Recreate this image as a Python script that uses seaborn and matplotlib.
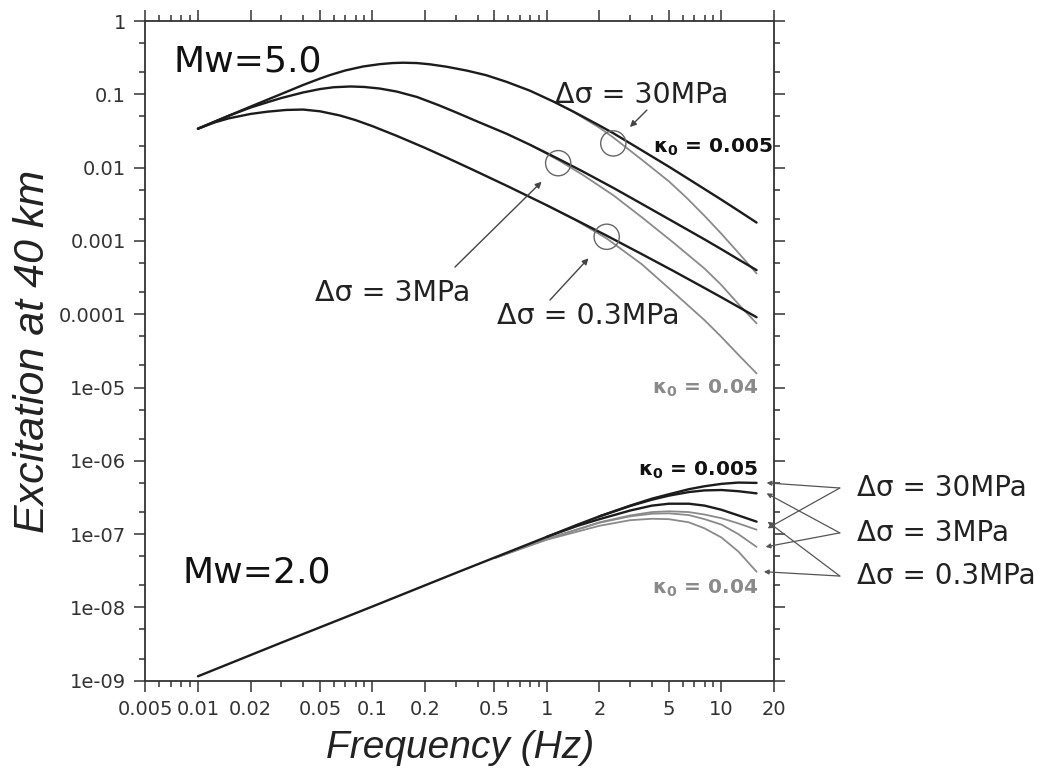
import numpy as np
import pandas as pd
import seaborn as sns
import matplotlib
matplotlib.use("Agg")
import matplotlib.pyplot as plt
from matplotlib.ticker import FixedLocator, FixedFormatter, NullFormatter

# ---------------- data ----------------
# Mw = 5.0, kappa0 = 0.005 (black)
f5_30 = [0.01, 0.015, 0.02, 0.03, 0.04, 0.05, 0.057, 0.07, 0.0885, 0.11, 0.13, 0.15, 0.18, 0.213,
         0.266, 0.35, 0.45, 0.587, 0.8, 1.11, 1.42, 2.0, 2.4, 3.5, 5.0, 6.3, 8.0, 10.0, 12.5, 15.9]
v5_30 = [0.034, 0.051, 0.068, 0.101, 0.134, 0.164, 0.183, 0.212, 0.24, 0.258, 0.267, 0.27, 0.267, 0.257,
         0.238, 0.21, 0.182, 0.148, 0.112, 0.078, 0.058, 0.0375, 0.0295, 0.0172, 0.0103, 0.0073, 0.0051,
         0.00365, 0.00259, 0.00178]
f5_3 = [0.01, 0.015, 0.02, 0.025, 0.03, 0.04, 0.05, 0.06, 0.075, 0.09, 0.11, 0.138, 0.18, 0.24, 0.3,
        0.4, 0.587, 0.8, 1.16, 1.6, 2.4, 3.5, 5.3, 8.0, 10.0, 12.5, 15.9]
v5_3 = [0.034, 0.051, 0.066, 0.078, 0.089, 0.106, 0.118, 0.125, 0.128, 0.126, 0.12, 0.109, 0.092, 0.071,
        0.057, 0.0425, 0.029, 0.0205, 0.0132, 0.0089, 0.0053, 0.0032, 0.00183, 0.00105, 0.00077,
        0.00056, 0.0004]
f5_03 = [0.01, 0.0125, 0.015, 0.02, 0.025, 0.032, 0.04, 0.05, 0.065, 0.08, 0.1, 0.138, 0.2, 0.266,
         0.378, 0.6, 1.0, 1.5, 2.2, 3.5, 5.3, 8.0, 10.0, 12.5, 15.9]
v5_03 = [0.034, 0.0415, 0.047, 0.054, 0.058, 0.0612, 0.062, 0.0587, 0.0515, 0.0445, 0.0368, 0.0271,
         0.0186, 0.0137, 0.0093, 0.00553, 0.00306, 0.00188, 0.00118, 0.00066, 0.00039, 0.000228,
         0.00017, 0.000126, 0.000091]
# Mw = 5.0, kappa0 = 0.04 (grey)
g5_f30 = [1.11, 1.42, 2.0, 2.4, 3.5, 5.0, 6.3, 8.0, 10.0, 12.5, 15.9]
g5_v30 = [0.078, 0.0575, 0.035, 0.0258, 0.0128, 0.0065, 0.0039, 0.0022, 0.00125, 0.00069, 0.00036]
g5_f3 = [0.8, 1.16, 1.6, 2.4, 3.5, 5.3, 8.0, 10.0, 12.5, 15.9]
g5_v3 = [0.0205, 0.0127, 0.008, 0.0042, 0.0021, 0.00095, 0.00042, 0.00025, 0.000138, 0.000075]
g5_f03 = [1.0, 1.5, 2.2, 3.5, 5.3, 8.0, 10.0, 12.5, 15.9]
g5_v03 = [0.00306, 0.00185, 0.00108, 0.00048, 0.0002, 0.000083, 0.000049, 0.000028, 0.0000156]

# Mw = 2.0, kappa0 = 0.005 (black)
f2_30 = [0.01, 0.03, 0.1, 0.3, 1.0, 1.5, 2.0, 3.0, 4.0, 5.0, 6.5, 8.0, 10.0, 12.5, 15.9]
v2_30 = [1.15e-9, 3.3e-9, 1.03e-8, 2.95e-8, 9.2e-8, 1.35e-7, 1.75e-7, 2.45e-7, 3.05e-7, 3.5e-7,
         4.1e-7, 4.5e-7, 4.85e-7, 5.05e-7, 5.0e-7]
f2_3 = [2.0, 3.0, 4.0, 5.0, 6.5, 8.0, 10.0, 12.5, 15.9]
v2_3 = [1.75e-7, 2.42e-7, 2.95e-7, 3.35e-7, 3.75e-7, 3.95e-7, 4.0e-7, 3.85e-7, 3.6e-7]
f2_03 = [1.0, 1.5, 2.0, 3.0, 4.0, 5.0, 6.5, 8.0, 10.0, 12.5, 15.9]
v2_03 = [9.2e-8, 1.3e-7, 1.6e-7, 2.1e-7, 2.45e-7, 2.6e-7, 2.6e-7, 2.45e-7, 2.15e-7, 1.8e-7, 1.48e-7]
# Mw = 2.0, kappa0 = 0.04 (grey)
g2_f30 = [0.5, 1.0, 2.0, 3.0, 4.0, 5.0, 6.5, 8.0, 10.0, 12.5, 15.9]
g2_v30 = [4.7e-8, 8.6e-8, 1.45e-7, 1.8e-7, 2.0e-7, 2.05e-7, 2.0e-7, 1.85e-7, 1.65e-7, 1.4e-7, 1.15e-7]
g2_f3 = [0.5, 1.0, 2.0, 3.0, 4.0, 5.0, 6.5, 8.0, 10.0, 12.5, 15.9]
g2_v3 = [4.7e-8, 8.6e-8, 1.43e-7, 1.75e-7, 1.9e-7, 1.92e-7, 1.82e-7, 1.6e-7, 1.35e-7, 1.0e-7, 6.7e-8]
g2_f03 = [0.5, 1.0, 2.0, 3.0, 4.0, 5.0, 6.5, 8.0, 10.0, 12.5, 15.9]
g2_v03 = [4.7e-8, 8.4e-8, 1.3e-7, 1.55e-7, 1.62e-7, 1.6e-7, 1.45e-7, 1.2e-7, 9.0e-8, 5.8e-8, 3.07e-8]

xtick_vals = [0.005, 0.01, 0.02, 0.05, 0.1, 0.2, 0.5, 1, 2, 5, 10, 20]
xtick_labels = ["0.005", "0.01", "0.02", "0.05", "0.1", "0.2", "0.5", "1", "2", "5", "10", "20"]
ytick_vals = [1, 0.1, 0.01, 0.001, 0.0001, 1e-5, 1e-6, 1e-7, 1e-8, 1e-9]
ytick_labels = ["1", "0.1", "0.01", "0.001", "0.0001", "1e-05", "1e-06", "1e-07", "1e-08", "1e-09"]

# ---------------- styling ----------------
sns.set_theme(style="ticks")
plt.rcParams["font.family"] = ["DejaVu Sans"]
plt.rcParams["mathtext.fontset"] = "dejavusans"

BLACK = "#1c1c1c"
GREY = "#8a8a8a"
SPINE = "#333333"

fig = plt.figure(figsize=(10.51, 7.82), dpi=100)
ax = fig.add_axes([0.1384, 0.1295, 0.598, 0.8436])
ax.set_xscale("log")
ax.set_yscale("log")

def draw(fx, vy, color, lw):
    df = pd.DataFrame({"f": fx, "v": vy})
    sns.lineplot(data=df, x="f", y="v", ax=ax, color=color, lw=lw,
                 estimator=None, sort=False, legend=False)

for fx, vy in [(g5_f30, g5_v30), (g5_f3, g5_v3), (g5_f03, g5_v03),
               (g2_f30, g2_v30), (g2_f3, g2_v3), (g2_f03, g2_v03)]:
    draw(fx, vy, GREY, 1.3)
for fx, vy in [(f5_30, v5_30), (f5_3, v5_3), (f5_03, v5_03),
               (f2_30, v2_30), (f2_3, v2_3), (f2_03, v2_03)]:
    draw(fx, vy, BLACK, 1.7)

ax.set_xlim(0.005, 20)
ax.set_ylim(1e-9, 1)

# ticks
minor_x = [m * 10.0 ** e for e in range(-3, 2) for m in (3, 4, 6, 7, 8, 9)]
minor_x = [x for x in minor_x if 0.005 < x < 20]
minor_y = [m * 10.0 ** e for e in range(-9, 0) for m in (2, 5)]
ax.xaxis.set_major_locator(FixedLocator(xtick_vals))
ax.xaxis.set_major_formatter(FixedFormatter(xtick_labels))
ax.xaxis.set_minor_locator(FixedLocator(minor_x))
ax.xaxis.set_minor_formatter(NullFormatter())
ax.yaxis.set_major_locator(FixedLocator(ytick_vals))
ax.yaxis.set_major_formatter(FixedFormatter(ytick_labels))
ax.yaxis.set_minor_locator(FixedLocator(minor_y))
ax.yaxis.set_minor_formatter(NullFormatter())
ax.tick_params(which="both", direction="out", top=True, right=True,
               color=SPINE, width=1.1)
ax.tick_params(which="major", length=8, labelsize=14, labelcolor="#333333", pad=6)
ax.tick_params(which="minor", length=4.5)
for s in ax.spines.values():
    s.set_color(SPINE)
    s.set_linewidth(1.3)

lab_fam = ["Liberation Sans", "DejaVu Sans"]
ax.set_xlabel("Frequency (Hz)", fontsize=28, style="italic", color="#222222",
              labelpad=8, family=lab_fam)
ax.set_ylabel("Excitation at 40 km", fontsize=31, style="italic", color="#222222",
              labelpad=4, family=lab_fam)

# ---------------- annotations ----------------
ax.text(0.0072, 0.28, "Mw=5.0", fontsize=26, ha="left", va="center", color="#111111")
ax.text(0.0082, 2.95e-8, "Mw=2.0", fontsize=26, ha="left", va="center", color="#111111")

lab_kw = dict(fontsize=20.5, color="#222222", va="center")
ax.text(1.11, 0.098, "Δσ = 30MPa", ha="left", **lab_kw)
ax.text(0.362, 1.95e-4, "Δσ = 3MPa", ha="right", **lab_kw)
ax.text(0.517, 9.4e-5, "Δσ = 0.3MPa", ha="left", **lab_kw)

k005 = r"$\mathbf{\kappa_0}$ = 0.005"
k04 = r"$\mathbf{\kappa_0}$ = 0.04"
ax.text(4.05, 0.0188, k005, fontsize=14.5, fontweight="bold",
        ha="left", va="center", color="#111111", clip_on=False)
ax.text(16.2, 9.8e-6, k04, fontsize=14.5, fontweight="bold",
        ha="right", va="center", color=GREY)
ax.text(16.2, 7.5e-7, k005, fontsize=14.5, fontweight="bold",
        ha="right", va="center", color="#111111")
ax.text(16.2, 1.84e-8, k04, fontsize=14.5, fontweight="bold",
        ha="right", va="center", color=GREY)

# circles
circ_f = [2.4, 1.16, 2.2]
circ_v = [0.0214, 0.0115, 0.00114]
ax.scatter(circ_f, circ_v, s=330, facecolors="none", edgecolors="#666666", linewidths=1.0, zorder=5)

arrow_kw = dict(arrowstyle="-|>", color="#444444", lw=1.0, mutation_scale=9, shrinkA=0, shrinkB=0)
ax.annotate("", xy=(2.99, 0.0358), xytext=(3.74, 0.061), arrowprops=arrow_kw)
ax.annotate("", xy=(0.932, 0.00642), xytext=(0.297, 4.4e-4), arrowprops=arrow_kw)
ax.annotate("", xy=(1.73, 5.8e-4), xytext=(1.04, 1.56e-4), arrowprops=arrow_kw)

# right-hand labels for Mw=2
rl_kw = dict(fontsize=20, color="#222222", ha="left", va="center")
ax.text(59.7, 4.26e-7, "Δσ = 30MPa", clip_on=False, **rl_kw)
ax.text(59.7, 1.04e-7, "Δσ = 3MPa", clip_on=False, **rl_kw)
ax.text(59.7, 2.68e-8, "Δσ = 0.3MPa", clip_on=False, **rl_kw)

vx = 47.7
targets = [
    (4.26e-7, [(18.15, 5.0e-7), (18.4, 1.2e-7)]),
    (1.04e-7, [(18.15, 3.6e-7), (17.9, 6.7e-8)]),
    (2.68e-8, [(18.4, 1.48e-7), (17.5, 3.07e-8)]),
]
thin_kw = dict(arrowstyle="-|>", color="#555555", lw=0.9, mutation_scale=7, shrinkA=0, shrinkB=0)
for vy, tlist in targets:
    for tx, ty in tlist:
        ax.annotate("", xy=(tx, ty), xytext=(vx, vy), arrowprops=thin_kw, annotation_clip=False)

fig.savefig("out.png", dpi=100)
